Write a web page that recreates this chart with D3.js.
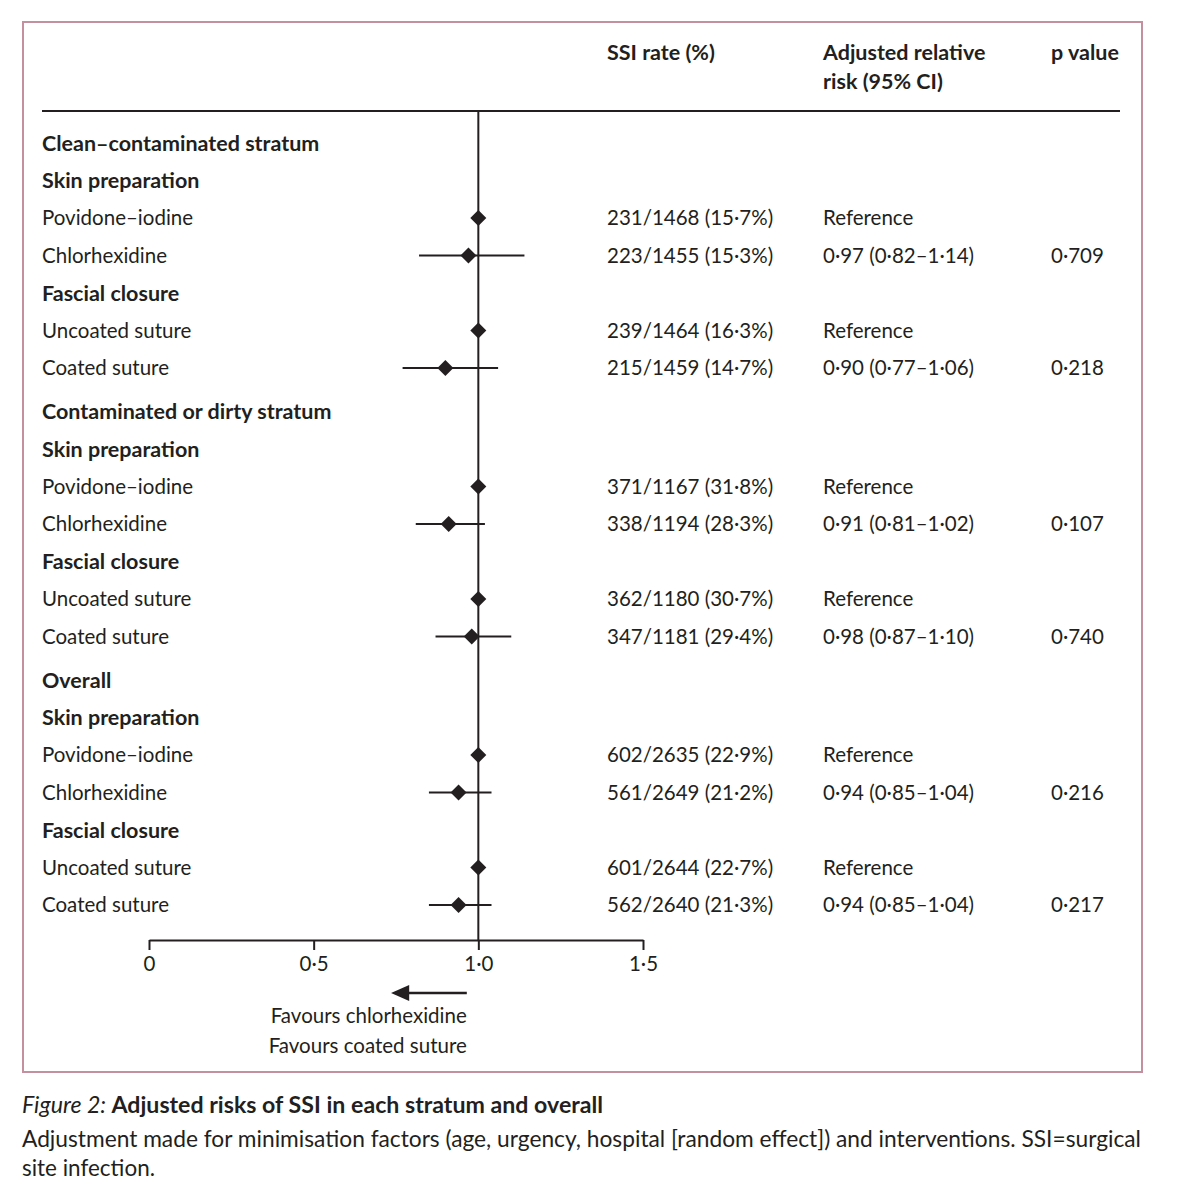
<!DOCTYPE html>
<html>
<head>
<meta charset="utf-8">
<script src="https://cdn.jsdelivr.net/npm/d3@7"></script>
<style>
  body { margin: 0; background: #fff; }
  svg { display: block; }
  text { font-family: Lato, "Open Sans", sans-serif; fill: #231f20; }
</style>
</head>
<body>
<svg id="chart" width="1177" height="1200"></svg>
<script>
// rows of the table, top to bottom ("h" = bold heading, "r" = data row)
const rowLabels = [
  "Clean–contaminated stratum", "Skin preparation", "Povidone–iodine", "Chlorhexidine",
  "Fascial closure", "Uncoated suture", "Coated suture",
  "Contaminated or dirty stratum", "Skin preparation", "Povidone–iodine", "Chlorhexidine",
  "Fascial closure", "Uncoated suture", "Coated suture",
  "Overall", "Skin preparation", "Povidone–iodine", "Chlorhexidine",
  "Fascial closure", "Uncoated suture", "Coated suture"
]
const rowTypes = ["h","h","r","r","h","r","r", "h","h","r","r","h","r","r", "h","h","r","r","h","r","r"]
const sectionStarts = [7, 14]

// data rows only, in order
const ssiRates = [
  "231/1468 (15·7%)", "223/1455 (15·3%)", "239/1464 (16·3%)", "215/1459 (14·7%)",
  "371/1167 (31·8%)", "338/1194 (28·3%)", "362/1180 (30·7%)", "347/1181 (29·4%)",
  "602/2635 (22·9%)", "561/2649 (21·2%)", "601/2644 (22·7%)", "562/2640 (21·3%)"
]
const riskEst  = [1, 0.97, 1, 0.90, 1, 0.91, 1, 0.98, 1, 0.94, 1, 0.94]
const riskLow  = [null, 0.82, null, 0.77, null, 0.81, null, 0.87, null, 0.85, null, 0.85]
const riskHigh = [null, 1.14, null, 1.06, null, 1.02, null, 1.10, null, 1.04, null, 1.04]
const pValues  = ["", "0·709", "", "0·218", "", "0·107", "", "0·740", "", "0·216", "", "0·217"]

const xTicks = [0, 0.5, 1, 1.5]

const fmt = v => v.toFixed(2).replace(".", "·")
const riskText = riskEst.map((d, i) => riskLow[i] == null ? "Reference"
  : `${fmt(d)} (${fmt(riskLow[i])}–${fmt(riskHigh[i])})`)

const ink = "#231f20"
const svg = d3.select("#chart")

// frame
svg.append("rect")
  .attr("x", 23).attr("y", 22).attr("width", 1119).attr("height", 1050)
  .attr("fill", "none").attr("stroke", "#c4909f").attr("stroke-width", 2)

const x = d3.scaleLinear().domain([0, 1.5]).range([149, 643])

// row positions: fixed step with a small extra gap before each stratum
const rowStep = 37.5, sectionGap = 6, firstRow = 143
const rowY = rowLabels.map((d, i) => firstRow + i * rowStep + sectionGap * sectionStarts.filter(s => i >= s).length)

const colSSI = 607, colRR = 823, colP = 1051
const regSize = 20.5, boldSize = 21.5

// header
const head = svg.append("g").attr("font-weight", "bold").attr("font-size", boldSize)
head.append("text").attr("x", colSSI).attr("y", 52).attr("dy", "0.35em").text("SSI rate (%)")
head.append("text").attr("x", colRR).attr("y", 52).attr("dy", "0.35em").text("Adjusted relative")
head.append("text").attr("x", colRR).attr("y", 81).attr("dy", "0.35em").text("risk (95% CI)")
head.append("text").attr("x", colP).attr("y", 52).attr("dy", "0.35em").text("p value")

svg.append("line")
  .attr("x1", 42).attr("x2", 1120).attr("y1", 111).attr("y2", 111)
  .attr("stroke", ink).attr("stroke-width", 2)

// row labels
svg.append("g")
  .selectAll("text")
  .data(rowLabels)
  .join("text")
  .attr("x", 42)
  .attr("y", (d, i) => rowY[i])
  .attr("dy", "0.35em")
  .attr("font-size", (d, i) => rowTypes[i] === "h" ? boldSize : regSize)
  .attr("font-weight", (d, i) => rowTypes[i] === "h" ? "bold" : "normal")
  .text(d => d)

const dataY = rowY.filter((d, i) => rowTypes[i] === "r")

const cols = svg.append("g").attr("font-size", regSize)
cols.selectAll(".ssi").data(ssiRates).join("text")
  .attr("class", "ssi").attr("x", colSSI).attr("y", (d, i) => dataY[i]).attr("dy", "0.35em").text(d => d)
cols.selectAll(".rr").data(riskText).join("text")
  .attr("class", "rr").attr("x", colRR).attr("y", (d, i) => dataY[i]).attr("dy", "0.35em").text(d => d)
cols.selectAll(".pv").data(pValues).join("text")
  .attr("class", "pv").attr("x", colP).attr("y", (d, i) => dataY[i]).attr("dy", "0.35em").text(d => d)

// axis
const axisY = 940
svg.append("g")
  .attr("transform", `translate(0, ${axisY})`)
  .call(d3.axisBottom(x).tickValues(xTicks).tickSize(10).tickSizeOuter(0).tickPadding(6)
    .tickFormat(d => d === 0 ? "0" : d3.format(".1f")(d).replace(".", "·")))
  .call(g => g.select(".domain").attr("stroke", ink).attr("stroke-width", 2))
  .call(g => g.selectAll(".tick line").attr("stroke", ink).attr("stroke-width", 2))
  .call(g => g.selectAll(".tick text").attr("font-size", regSize).attr("fill", ink)
    .attr("font-family", "Lato, 'Open Sans', sans-serif"))

// line of no effect
svg.append("line")
  .attr("x1", x(1)).attr("x2", x(1)).attr("y1", 111).attr("y2", axisY)
  .attr("stroke", ink).attr("stroke-width", 2)

// confidence intervals
const ciIdx = d3.range(riskEst.length).filter(i => riskLow[i] != null)
svg.append("g")
  .selectAll("line")
  .data(ciIdx)
  .join("line")
  .attr("x1", i => x(riskLow[i])).attr("x2", i => x(riskHigh[i]))
  .attr("y1", i => dataY[i]).attr("y2", i => dataY[i])
  .attr("stroke", ink).attr("stroke-width", 2)

// point estimates (diamonds)
const dm = 8
svg.append("g")
  .selectAll("path")
  .data(riskEst)
  .join("path")
  .attr("transform", (d, i) => `translate(${x(d)}, ${dataY[i]})`)
  .attr("d", `M0,${-dm}L${dm},0L0,${dm}L${-dm},0Z`)
  .attr("fill", ink)

// favours arrow
const arrowY = 993
svg.append("line")
  .attr("x1", x(0.965)).attr("x2", x(0.77)).attr("y1", arrowY).attr("y2", arrowY)
  .attr("stroke", ink).attr("stroke-width", 2.5)
svg.append("path")
  .attr("d", `M${x(0.735)},${arrowY}L${x(0.79)},${arrowY - 8}L${x(0.79)},${arrowY + 8}Z`)
  .attr("fill", ink)
const fav = svg.append("g").attr("font-size", regSize).attr("text-anchor", "end")
fav.append("text").attr("x", x(0.965)).attr("y", 1016).attr("dy", "0.35em").text("Favours chlorhexidine")
fav.append("text").attr("x", x(0.965)).attr("y", 1046).attr("dy", "0.35em").text("Favours coated suture")

// caption (condensed face in the original: squeeze Lato to the same widths)
const cap = svg.append("g").attr("font-size", 23)
const t1 = cap.append("text").attr("x", 22).attr("y", 1105).attr("dy", "0.35em")
  .attr("textLength", 581).attr("lengthAdjust", "spacingAndGlyphs")
t1.append("tspan").attr("font-style", "italic").text("Figure 2: ")
t1.append("tspan").attr("font-weight", "bold").text("Adjusted risks of SSI in each stratum and overall")
cap.append("text").attr("x", 22).attr("y", 1139).attr("dy", "0.35em")
  .attr("textLength", 1119).attr("lengthAdjust", "spacingAndGlyphs")
  .text("Adjustment made for minimisation factors (age, urgency, hospital [random effect]) and interventions. SSI=surgical")
cap.append("text").attr("x", 22).attr("y", 1168).attr("dy", "0.35em")
  .attr("textLength", 133).attr("lengthAdjust", "spacingAndGlyphs")
  .text("site infection.")
</script>
</body>
</html>
